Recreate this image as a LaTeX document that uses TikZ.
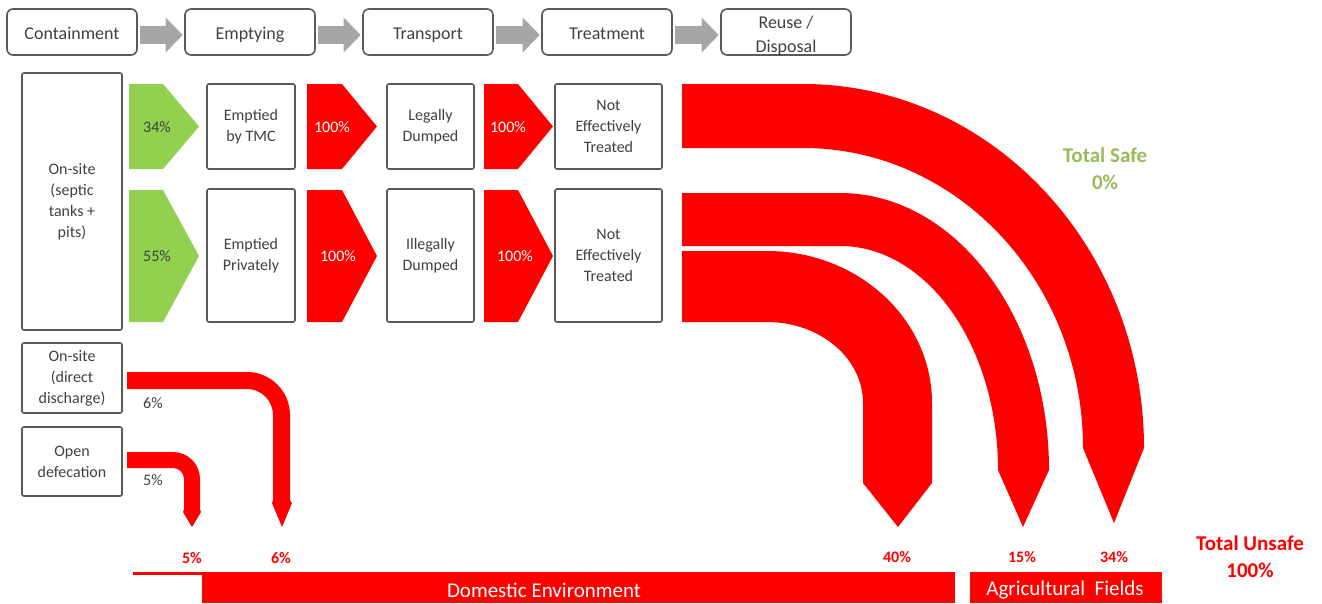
\documentclass[tikz,border=0pt]{standalone}
\usepackage{fontspec}
\setmainfont{Carlito}
\usepackage{tikz}
\usetikzlibrary{arrows.meta}

\definecolor{boxgray}{HTML}{595959}
\definecolor{textgray}{HTML}{404040}
\definecolor{stagegray}{HTML}{A6A6A6}
\definecolor{unsafered}{HTML}{FF0000}
\definecolor{safegreen}{HTML}{92D050}
\definecolor{safetext}{HTML}{9BBB59}

\begin{document}
\begin{tikzpicture}[x=1pt, y=-1pt,
  stage/.style={draw=boxgray, line width=1.6pt, rounded corners=6pt, text=textgray,
    minimum width=130pt, minimum height=46pt, align=center, inner sep=0pt,
    font=\fontsize{18}{24}\selectfont},
  oneline/.style={text height=16pt, text depth=2pt},
  box/.style={draw=boxgray, line width=1.6pt, rounded corners=2pt, text=textgray,
    align=center, inner sep=0pt, font=\fontsize{16}{21}\selectfont},
  stagearrow/.style={draw=stagegray, line width=18pt, -{Triangle[length=17pt, width=34pt]},
    shorten <=2pt, shorten >=1.5pt},
  chevlbl/.style={font=\fontsize{16}{20}\selectfont},
  pctgray/.style={text=textgray, font=\fontsize{16}{20}\selectfont},
  pctred/.style={text=unsafered, font=\fontsize{16}{20}\selectfont\bfseries},
  barlbl/.style={text=white, font=\fontsize{21}{25}\selectfont},
  totlbl/.style={align=center, font=\fontsize{21}{27}\selectfont\bfseries}]

  \useasboundingbox (0,0) rectangle (1322,603);

  % Stages along the top
  \node[stage, oneline] (contain) at (72,32)  {Containment};
  \node[stage, oneline] (empty)   at (250,32) {Emptying};
  \node[stage, oneline] (transp)  at (428,32) {Transport};
  \node[stage, oneline] (treat)   at (607,32) {Treatment};
  \node[stage] (reuse) at (786,32)
    {\raisebox{-8pt}[0pt][0pt]{Reuse /}\\\raisebox{-8pt}[0pt][0pt]{Disposal}};

  \draw[stagearrow] ([yshift=-3pt]contain.east) -- ([yshift=-3pt]empty.west);
  \draw[stagearrow] ([yshift=-3pt]empty.east)   -- ([yshift=-3pt]transp.west);
  \draw[stagearrow] ([yshift=-3pt]transp.east)  -- ([yshift=-3pt]treat.west);
  \draw[stagearrow] ([yshift=-3pt]treat.east)   -- ([yshift=-3pt]reuse.west);

  % Containment boxes
  \node[box, minimum width=100pt, minimum height=257pt] (onsite) at (72,201.5)
    {On-site\\(septic\\tanks +\\pits)};
  \node[box, minimum width=100pt, minimum height=70pt] (direct) at (72,378)
    {On-site\\(direct\\discharge)};
  \node[box, minimum width=100pt, minimum height=69pt] (opendef) at (72,461.5)
    {Open\\defecation};

  % Emptying, transport, treatment boxes
  \node[box, minimum width=88pt, minimum height=85pt]  (tmc)     at (251,126.5) {Emptied\\by TMC};
  \node[box, minimum width=88pt, minimum height=133pt] (private) at (251,255.5) {Emptied\\Privately};
  \node[box, minimum width=87pt, minimum height=85pt]  (legal)   at (430.5,126.5) {Legally\\Dumped};
  \node[box, minimum width=87pt, minimum height=133pt] (illegal) at (430.5,255.5) {Illegally\\Dumped};
  \node[box, minimum width=107pt, minimum height=85pt]  (nottreatA) at (608.5,126.5) {Not\\Effectively\\Treated};
  \node[box, minimum width=107pt, minimum height=133pt] (nottreatB) at (608.5,255.5) {Not\\Effectively\\Treated};

  % Chevrons between the boxes
  \fill[safegreen] (129,84)  -- (163,84)  -- (199,126.5) -- (163,169) -- (129,169) -- cycle;
  \fill[safegreen] (129,190) -- (163,190) -- (199,256)   -- (163,322) -- (129,322) -- cycle;
  \fill[unsafered] (307,84)  -- (342,84)  -- (377,126.5) -- (342,169) -- (307,169) -- cycle;
  \fill[unsafered] (307,190) -- (342,190) -- (377,256)   -- (342,322) -- (307,322) -- cycle;
  \fill[unsafered] (484,84)  -- (518,84)  -- (553,126.5) -- (518,169) -- (484,169) -- cycle;
  \fill[unsafered] (484,190) -- (518,190) -- (553,256)   -- (518,322) -- (484,322) -- cycle;

  \node[chevlbl, text=textgray] (tmcpct)  at (157,127) {34\%};
  \node[chevlbl, text=textgray] (privpct) at (157,256) {55\%};
  \node[chevlbl, text=white] (legpct)  at (332,127) {100\%};
  \node[chevlbl, text=white] (illpct)  at (338,256) {100\%};
  \node[chevlbl, text=white] (trApct)  at (508,127) {100\%};
  \node[chevlbl, text=white] (trBpct)  at (515,256) {100\%};

  % Curved flows to disposal
  \fill[unsafered] (682,84) -- (803,84) arc[start angle=-90, end angle=0, x radius=341, y radius=364]
    -- (1114,523) -- (1083,448) arc[start angle=0, end angle=-90, x radius=280, y radius=300]
    -- (682,148) -- cycle;
  \fill[unsafered] (682,193) -- (840,193) arc[start angle=-90, end angle=0, x radius=209, y radius=277]
    -- (1023,527) -- (998,470) arc[start angle=0, end angle=-90, x radius=158, y radius=224]
    -- (682,246) -- cycle;
  \fill[unsafered] (682,251) -- (767,251) arc[start angle=-90, end angle=0, x radius=165, y radius=152]
    -- (932,483) -- (898,527) -- (863,483) -- (863,403)
    arc[start angle=0, end angle=-90, x radius=96, y radius=81]
    -- (682,322) -- cycle;

  % Small flows from direct discharge and open defecation
  \fill[unsafered] (127,372) -- (247,372) arc[start angle=-90, end angle=0, radius=43]
    -- (290,500) -- (292,503) -- (282,527) -- (272,503) -- (273,500) -- (273,415)
    arc[start angle=0, end angle=-90, radius=26] -- (127,389) -- cycle;
  \fill[unsafered] (127,452) -- (173,452) arc[start angle=-90, end angle=0, radius=27]
    -- (200,509) -- (201,512) -- (192,527) -- (183,512) -- (184,509) -- (184,479)
    arc[start angle=0, end angle=-90, radius=11] -- (127,468) -- cycle;

  \node[pctgray] (directpct) at (153,403) {6\%};
  \node[pctgray] (openpct)   at (153,480) {5\%};

  % Percentages reaching the environment
  \node[pctred] (endopen)    at (192,558)  {5\%};
  \node[pctred] (enddirect)  at (281,558)  {6\%};
  \node[pctred] (endforty)   at (897,557)  {40\%};
  \node[pctred] (endfifteen) at (1022,557) {15\%};
  \node[pctred] (endthirty)  at (1114,557) {34\%};

  % Totals
  \node[totlbl, text=safetext]  (totsafe)   at (1105,168.5) {Total Safe\\0\%};
  \node[totlbl, text=unsafered] (totunsafe) at (1250,556.5) {Total Unsafe\\100\%};

  % Receiving environments
  \fill[unsafered] (133,572) rectangle (202,575);
  \fill[unsafered] (202,572) rectangle (955,603);
  \fill[unsafered] (970,572) rectangle (1162,603);
  \node[barlbl] (domestic) at (544,590) {Domestic Environment};
  \node[barlbl] (agri)     at (1065,590) {Agricultural\ \ Fields};

\end{tikzpicture}
\end{document}
